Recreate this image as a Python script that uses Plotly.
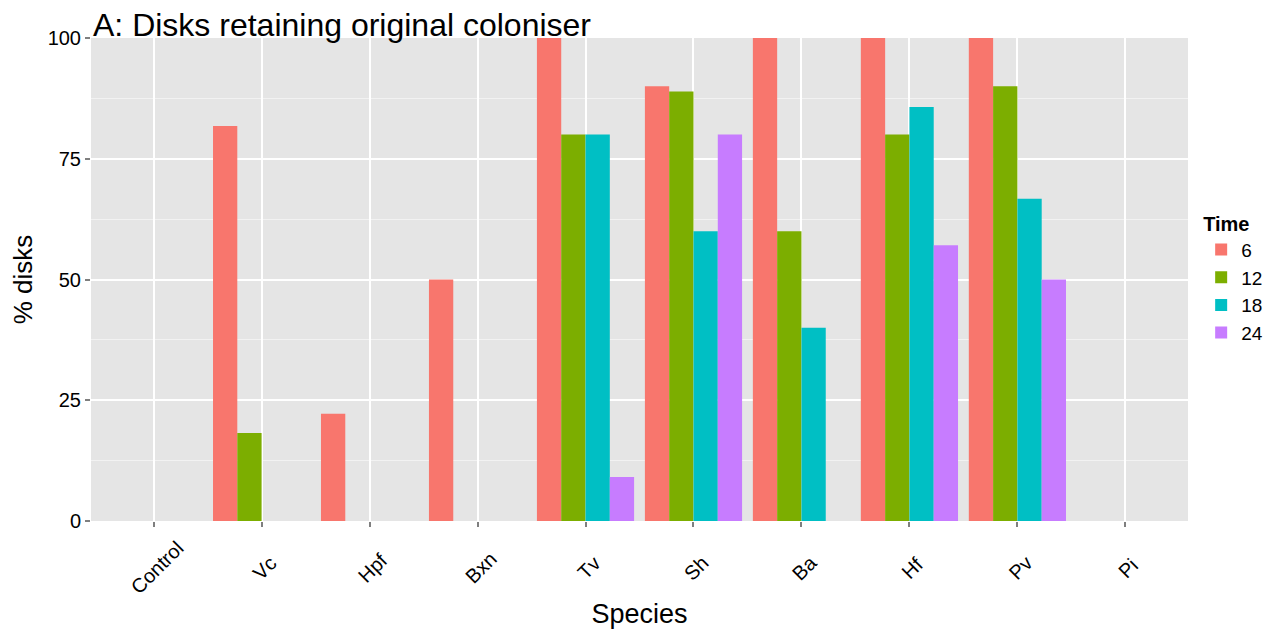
import plotly.graph_objects as go

species = ["Control", "Vc", "Hpf", "Bxn", "Tv", "Sh", "Ba", "Hf", "Pv", "Pi"]
times = ["6", "12", "18", "24"]
t6 = [None, 81.8, 22.2, 50, 100, 90, 100, 100, 100, None]
t12 = [None, 18.2, None, None, 80, 88.9, 60, 80, 90, None]
t18 = [None, None, None, None, 80, 60, 40, 85.7, 66.7, None]
t24 = [None, None, None, None, 9.1, 80, None, 57.1, 50, None]
series = [t6, t12, t18, t24]
colors = ["#F8766D", "#7CAE00", "#00BFC4", "#C77CFF"]

FONT = "Liberation Sans, Arial, Helvetica, sans-serif"

fig = go.Figure()
for name, vals, col in zip(times, series, colors):
    fig.add_trace(go.Bar(
        x=species, y=vals, name=name,
        marker=dict(color=col, line=dict(width=0)),
    ))

# rotated category labels, centred under each tick (ggplot style)
for sp in species:
    fig.add_annotation(x=sp, xref="x", y=0, yref="paper", text=sp, showarrow=False,
                       textangle=-45, xanchor="center", yanchor="middle",
                       xshift=3, yshift=-47, font=dict(size=20, color="black"))

fig.update_layout(
    width=1279, height=639,
    barmode="group", bargap=0.1, bargroupgap=0,
    paper_bgcolor="white", plot_bgcolor="#E5E5E5",
    margin=dict(l=83, r=99, t=30, b=126, autoexpand=False),
    font=dict(family=FONT, color="black"),
    title=dict(text="A: Disks retaining original coloniser", x=85/1279, xanchor="left",
               y=1 - 17/639, yanchor="middle", font=dict(size=32, color="black")),
    legend=dict(title=dict(text="<b>Time</b>", font=dict(size=20)),
                font=dict(size=19), x=1.012, xanchor="left", y=0.655, yanchor="top",
                tracegroupgap=0, itemwidth=30, traceorder="normal",
                bgcolor="rgba(0,0,0,0)"),
    showlegend=True,
)
fig.update_xaxes(
    type="category", range=[-0.58, 9.58], showgrid=True, gridcolor="white", gridwidth=2,
    ticks="outside", ticklen=5, tickwidth=2, tickcolor="#7F7F7F",
    showticklabels=False,
    title=dict(text="Species", font=dict(size=27), standoff=78),
    zeroline=False, showline=False,
)
fig.update_yaxes(
    range=[0, 100], tickvals=[0, 25, 50, 75, 100], showgrid=True, gridcolor="white", gridwidth=2,
    minor=dict(tickvals=[12.5, 37.5, 62.5, 87.5], showgrid=True, gridcolor="#F2F2F2", gridwidth=1, ticks=""),
    ticks="outside", ticklen=5, tickwidth=2, tickcolor="#7F7F7F",
    tickfont=dict(size=20, color="black"),
    title=dict(text="% disks", font=dict(size=26), standoff=10),
    zeroline=False, showline=False,
)

fig.write_html("out.html")
